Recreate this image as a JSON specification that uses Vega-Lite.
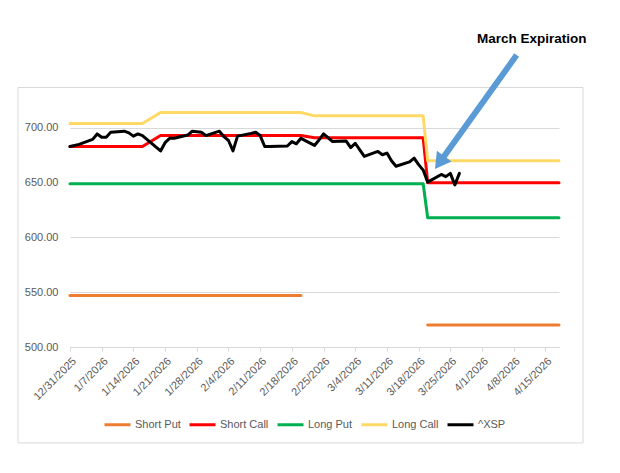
{
  "$schema": "https://vega.github.io/schema/vega-lite/v6.json",
  "width": 489,
  "height": 241,
  "autosize": {"type": "none"},
  "padding": {"left": 70, "top": 106, "right": 61, "bottom": 126},
  "background": "white",
  "config": {"view": {"stroke": null}, "font": "Liberation Sans", "axisX": {"labelOverlap": false}},
  "datasets": {
    "legs": [
      {"date": "2025-12-31", "series": "Short Put", "seg": 1, "value": 547},
      {"date": "2026-02-20", "series": "Short Put", "seg": 1, "value": 547},
      {"date": "2026-03-20", "series": "Short Put", "seg": 2, "value": 520},
      {"date": "2026-04-18", "series": "Short Put", "seg": 2, "value": 520},
      {"date": "2025-12-31", "series": "Short Call", "seg": 1, "value": 683},
      {"date": "2026-01-16", "series": "Short Call", "seg": 1, "value": 683},
      {"date": "2026-01-20", "series": "Short Call", "seg": 1, "value": 693},
      {"date": "2026-02-20", "series": "Short Call", "seg": 1, "value": 693},
      {"date": "2026-02-23", "series": "Short Call", "seg": 1, "value": 691},
      {"date": "2026-03-19", "series": "Short Call", "seg": 1, "value": 691},
      {"date": "2026-03-20", "series": "Short Call", "seg": 1, "value": 650},
      {"date": "2026-04-18", "series": "Short Call", "seg": 1, "value": 650},
      {"date": "2025-12-31", "series": "Long Put", "seg": 1, "value": 649},
      {"date": "2026-03-19", "series": "Long Put", "seg": 1, "value": 649},
      {"date": "2026-03-20", "series": "Long Put", "seg": 1, "value": 618},
      {"date": "2026-04-18", "series": "Long Put", "seg": 1, "value": 618},
      {"date": "2025-12-31", "series": "Long Call", "seg": 1, "value": 704},
      {"date": "2026-01-16", "series": "Long Call", "seg": 1, "value": 704},
      {"date": "2026-01-20", "series": "Long Call", "seg": 1, "value": 714},
      {"date": "2026-02-20", "series": "Long Call", "seg": 1, "value": 714},
      {"date": "2026-02-23", "series": "Long Call", "seg": 1, "value": 711},
      {"date": "2026-03-19", "series": "Long Call", "seg": 1, "value": 711},
      {"date": "2026-03-20", "series": "Long Call", "seg": 1, "value": 670},
      {"date": "2026-04-18", "series": "Long Call", "seg": 1, "value": 670},
      {"date": "2025-12-31", "series": "^XSP", "seg": 1, "value": 683},
      {"date": "2026-01-02", "series": "^XSP", "seg": 1, "value": 685},
      {"date": "2026-01-05", "series": "^XSP", "seg": 1, "value": 689.5},
      {"date": "2026-01-06", "series": "^XSP", "seg": 1, "value": 694.5},
      {"date": "2026-01-07", "series": "^XSP", "seg": 1, "value": 691.5},
      {"date": "2026-01-08", "series": "^XSP", "seg": 1, "value": 691.5},
      {"date": "2026-01-09", "series": "^XSP", "seg": 1, "value": 696},
      {"date": "2026-01-12", "series": "^XSP", "seg": 1, "value": 697},
      {"date": "2026-01-13", "series": "^XSP", "seg": 1, "value": 695.5},
      {"date": "2026-01-14", "series": "^XSP", "seg": 1, "value": 692.5},
      {"date": "2026-01-15", "series": "^XSP", "seg": 1, "value": 694.5},
      {"date": "2026-01-16", "series": "^XSP", "seg": 1, "value": 693},
      {"date": "2026-01-20", "series": "^XSP", "seg": 1, "value": 679},
      {"date": "2026-01-21", "series": "^XSP", "seg": 1, "value": 686.5},
      {"date": "2026-01-22", "series": "^XSP", "seg": 1, "value": 690.5},
      {"date": "2026-01-23", "series": "^XSP", "seg": 1, "value": 690.5},
      {"date": "2026-01-26", "series": "^XSP", "seg": 1, "value": 693.5},
      {"date": "2026-01-27", "series": "^XSP", "seg": 1, "value": 697},
      {"date": "2026-01-28", "series": "^XSP", "seg": 1, "value": 696.5},
      {"date": "2026-01-29", "series": "^XSP", "seg": 1, "value": 696},
      {"date": "2026-01-30", "series": "^XSP", "seg": 1, "value": 693},
      {"date": "2026-02-02", "series": "^XSP", "seg": 1, "value": 697},
      {"date": "2026-02-03", "series": "^XSP", "seg": 1, "value": 692},
      {"date": "2026-02-04", "series": "^XSP", "seg": 1, "value": 688.5},
      {"date": "2026-02-05", "series": "^XSP", "seg": 1, "value": 679},
      {"date": "2026-02-06", "series": "^XSP", "seg": 1, "value": 692.5},
      {"date": "2026-02-09", "series": "^XSP", "seg": 1, "value": 695},
      {"date": "2026-02-10", "series": "^XSP", "seg": 1, "value": 696},
      {"date": "2026-02-11", "series": "^XSP", "seg": 1, "value": 693},
      {"date": "2026-02-12", "series": "^XSP", "seg": 1, "value": 683},
      {"date": "2026-02-13", "series": "^XSP", "seg": 1, "value": 683},
      {"date": "2026-02-17", "series": "^XSP", "seg": 1, "value": 683.5},
      {"date": "2026-02-18", "series": "^XSP", "seg": 1, "value": 687.5},
      {"date": "2026-02-19", "series": "^XSP", "seg": 1, "value": 685.5},
      {"date": "2026-02-20", "series": "^XSP", "seg": 1, "value": 690.5},
      {"date": "2026-02-23", "series": "^XSP", "seg": 1, "value": 684},
      {"date": "2026-02-24", "series": "^XSP", "seg": 1, "value": 689},
      {"date": "2026-02-25", "series": "^XSP", "seg": 1, "value": 694.5},
      {"date": "2026-02-26", "series": "^XSP", "seg": 1, "value": 691},
      {"date": "2026-02-27", "series": "^XSP", "seg": 1, "value": 687.5},
      {"date": "2026-03-02", "series": "^XSP", "seg": 1, "value": 688},
      {"date": "2026-03-03", "series": "^XSP", "seg": 1, "value": 682},
      {"date": "2026-03-04", "series": "^XSP", "seg": 1, "value": 686},
      {"date": "2026-03-05", "series": "^XSP", "seg": 1, "value": 680},
      {"date": "2026-03-06", "series": "^XSP", "seg": 1, "value": 674},
      {"date": "2026-03-09", "series": "^XSP", "seg": 1, "value": 678.5},
      {"date": "2026-03-10", "series": "^XSP", "seg": 1, "value": 675.5},
      {"date": "2026-03-11", "series": "^XSP", "seg": 1, "value": 677},
      {"date": "2026-03-12", "series": "^XSP", "seg": 1, "value": 670},
      {"date": "2026-03-13", "series": "^XSP", "seg": 1, "value": 665},
      {"date": "2026-03-16", "series": "^XSP", "seg": 1, "value": 669},
      {"date": "2026-03-17", "series": "^XSP", "seg": 1, "value": 672.5},
      {"date": "2026-03-18", "series": "^XSP", "seg": 1, "value": 666.5},
      {"date": "2026-03-19", "series": "^XSP", "seg": 1, "value": 661.5},
      {"date": "2026-03-20", "series": "^XSP", "seg": 1, "value": 650.5},
      {"date": "2026-03-23", "series": "^XSP", "seg": 1, "value": 657.5},
      {"date": "2026-03-24", "series": "^XSP", "seg": 1, "value": 655.5},
      {"date": "2026-03-25", "series": "^XSP", "seg": 1, "value": 658.5},
      {"date": "2026-03-26", "series": "^XSP", "seg": 1, "value": 648},
      {"date": "2026-03-27", "series": "^XSP", "seg": 1, "value": 658.5}
    ]
  },
  "layer": [
    {
      "data": {"name": "legs"},
      "mark": {"type": "line", "strokeWidth": 3, "strokeJoin": "round", "strokeCap": "round"},
      "encoding": {
        "x": {
          "field": "date",
          "type": "temporal",
          "scale": {
            "type": "utc",
            "domain": [
              {"year": 2025, "month": 12, "date": 31, "utc": true},
              {"year": 2026, "month": 4, "date": 18, "utc": true}
            ]
          },
          "axis": {
            "title": null,
            "grid": false,
            "format": "%-m/%-d/%Y",
            "tickCount": 40,
            "values": [
              {"year": 2025, "month": 12, "date": 31, "utc": true},
              {"year": 2026, "month": 1, "date": 7, "utc": true},
              {"year": 2026, "month": 1, "date": 14, "utc": true},
              {"year": 2026, "month": 1, "date": 21, "utc": true},
              {"year": 2026, "month": 1, "date": 28, "utc": true},
              {"year": 2026, "month": 2, "date": 4, "utc": true},
              {"year": 2026, "month": 2, "date": 11, "utc": true},
              {"year": 2026, "month": 2, "date": 18, "utc": true},
              {"year": 2026, "month": 2, "date": 25, "utc": true},
              {"year": 2026, "month": 3, "date": 4, "utc": true},
              {"year": 2026, "month": 3, "date": 11, "utc": true},
              {"year": 2026, "month": 3, "date": 18, "utc": true},
              {"year": 2026, "month": 3, "date": 25, "utc": true},
              {"year": 2026, "month": 4, "date": 1, "utc": true},
              {"year": 2026, "month": 4, "date": 8, "utc": true},
              {"year": 2026, "month": 4, "date": 15, "utc": true}
            ],
            "labelAngle": -45,
            "labelFontSize": 11,
            "labelColor": "#595959",
            "labelPadding": 4,
            "domainColor": "#D9D9D9",
            "tickColor": "#D9D9D9",
            "tickSize": 4,
            "labelOverlap": false,
            "labelSeparation": 0
          }
        },
        "y": {
          "field": "value",
          "type": "quantitative",
          "scale": {"domain": [500, 720], "nice": false, "zero": false},
          "axis": {
            "title": null,
            "values": [500, 550, 600, 650, 700],
            "format": ".2f",
            "domain": false,
            "ticks": false,
            "gridColor": "#D9D9D9",
            "labelFontSize": 11,
            "labelColor": "#595959",
            "labelPadding": 12
          }
        },
        "color": {
          "field": "series",
          "type": "nominal",
          "scale": {
            "domain": ["Short Put", "Short Call", "Long Put", "Long Call", "^XSP"],
            "range": ["#ED7D31", "#FF0000", "#00B050", "#FFD966", "#000000"]
          },
          "legend": {
            "orient": "none",
            "legendX": 33,
            "legendY": 304,
            "direction": "horizontal",
            "columns": 5,
            "title": null,
            "symbolType": "stroke",
            "symbolSize": 676,
            "symbolStrokeWidth": 3,
            "labelFontSize": 11,
            "labelColor": "#595959",
            "labelOffset": 3,
            "columnPadding": 2
          }
        },
        "detail": {"field": "seg", "type": "nominal"}
      }
    },
    {
      "data": {"values": [{}]},
      "mark": {"type": "rect", "fillOpacity": 0, "stroke": "#D9D9D9", "strokeWidth": 1},
      "encoding": {
        "x": {"datum": {"year": 2025, "month": 12, "date": 19, "hours": 12, "minutes": 29, "utc": true}, "type": "temporal"},
        "x2": {"datum": {"year": 2026, "month": 4, "date": 23, "hours": 7, "minutes": 12, "utc": true}},
        "y": {"datum": 736.9, "type": "quantitative"},
        "y2": {"datum": 412.4}
      }
    },
    {
      "data": {"values": [{}]},
      "mark": {"type": "rule", "color": "#5B9BD5", "strokeWidth": 6, "strokeCap": "butt"},
      "encoding": {
        "x": {"datum": {"year": 2026, "month": 4, "date": 8, "hours": 15, "minutes": 36, "utc": true}, "type": "temporal"},
        "y": {"datum": 766.5, "type": "quantitative"},
        "x2": {"datum": {"year": 2026, "month": 3, "date": 22, "hours": 15, "minutes": 7, "utc": true}},
        "y2": {"datum": 668.4}
      }
    },
    {
      "data": {"values": [{}]},
      "mark": {"type": "point", "shape": "triangle-up", "angle": 216, "size": 330, "filled": true, "color": "#5B9BD5", "opacity": 1},
      "encoding": {
        "x": {"datum": {"year": 2026, "month": 3, "date": 22, "hours": 15, "minutes": 7, "utc": true}, "type": "temporal"},
        "y": {"datum": 668.4, "type": "quantitative"}
      }
    },
    {
      "data": {"values": [{}]},
      "mark": {"type": "text", "text": "March Expiration", "font": "Liberation Sans", "fontSize": 13.5, "fontWeight": "bold", "color": "#000000", "align": "center", "baseline": "alphabetic"},
      "encoding": {
        "x": {"datum": {"year": 2026, "month": 4, "date": 12, "utc": true}, "type": "temporal"},
        "y": {"datum": 777.7, "type": "quantitative"}
      }
    }
  ]
}
